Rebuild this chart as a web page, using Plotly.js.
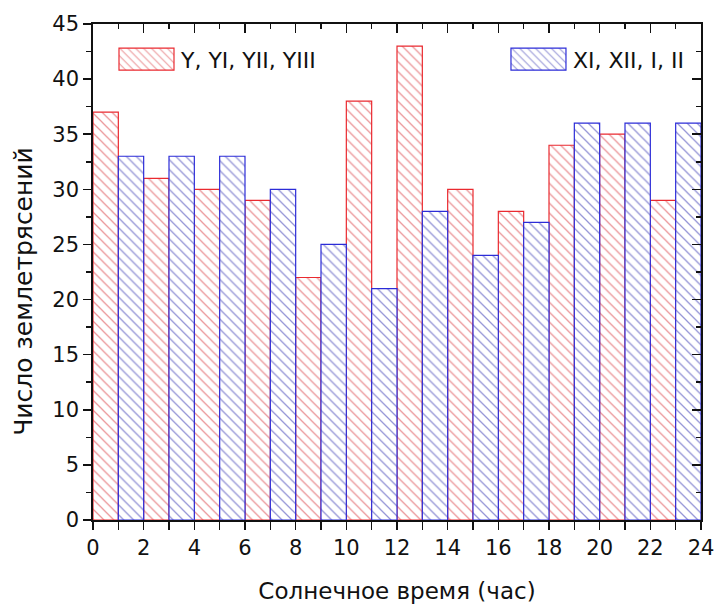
<!DOCTYPE html>
<html>
<head>
<meta charset="utf-8">
<script src="https://cdn.plot.ly/plotly-3.0.1.min.js"></script>
<style>html,body{margin:0;padding:0;background:#fff;}#chart{width:715px;height:604px;}</style>
</head>
<body>
<div id="chart"></div>
<script>
// Data
const summerStarts = [0, 2, 4, 6, 8, 10, 12, 14, 16, 18, 20, 22];
const summerCounts = [37, 31, 30, 29, 22, 38, 43, 30, 28, 34, 35, 29];
const winterStarts = [1, 3, 5, 7, 9, 11, 13, 15, 17, 19, 21, 23];
const winterCounts = [33, 33, 33, 30, 25, 21, 28, 24, 27, 36, 36, 36];
const summerName = "Y, YI, YII, YIII";
const winterName = "XI, XII, I, II";
const xTitle = "Солнечное время (час)";
const yTitle = "Число землетрясений";

const FONT = "DejaVu Sans, Arial, sans-serif";

const traces = [
  {
    type: "bar", name: summerName, x: summerStarts, y: summerCounts,
    width: 1, offset: 0, legend: "legend",
    marker: {
      color: "#ffffff",
      line: {color: "#ea2a30", width: 1.2},
      pattern: {shape: "\\", fgcolor: "#eb9598", bgcolor: "#ffffff", size: 7, solidity: 0.18}
    },
    hoverinfo: "skip"
  },
  {
    type: "bar", name: winterName, x: winterStarts, y: winterCounts,
    width: 1, offset: 0, legend: "legend2",
    marker: {
      color: "#ffffff",
      line: {color: "#2c2cd8", width: 1.2},
      pattern: {shape: "\\", fgcolor: "#9494d6", bgcolor: "#ffffff", size: 7, solidity: 0.18}
    },
    hoverinfo: "skip"
  }
];

const layout = {
  width: 715, height: 604,
  margin: {l: 93, r: 14, t: 24, b: 84},
  paper_bgcolor: "#ffffff", plot_bgcolor: "#ffffff",
  font: {family: FONT, color: "#111111", size: 21},
  barmode: "overlay",
  bargap: 0,
  showlegend: true,
  legend: {
    x: 0.0296, y: 0.971, xanchor: "left", yanchor: "top",
    bgcolor: "rgba(0,0,0,0)", font: {family: FONT, size: 22, color: "#111"},
    itemwidth: 60, tracegroupgap: 0
  },
  legend2: {
    x: 0.6743, y: 0.971, xanchor: "left", yanchor: "top",
    bgcolor: "rgba(0,0,0,0)", font: {family: FONT, size: 22, color: "#111"},
    itemwidth: 60, tracegroupgap: 0
  },
  xaxis: {
    range: [0, 24], dtick: 2, tick0: 0,
    ticks: "outside", ticklen: 8, tickwidth: 1.5, tickcolor: "#111",
    minor: {dtick: 1, ticks: "outside", ticklen: 8, tickwidth: 1.5, tickcolor: "#111"},
    showline: true, linecolor: "#111", linewidth: 1.8,
    showgrid: false, zeroline: false,
    tickfont: {family: FONT, size: 21, color: "#111"},
    title: {text: xTitle, font: {family: FONT, size: 23, color: "#111"}, standoff: 28}
  },
  yaxis: {
    range: [0, 45], dtick: 5, tick0: 0,
    ticks: "outside", ticklen: 8, tickwidth: 1.5, tickcolor: "#111",
    minor: {dtick: 2.5, ticks: "outside", ticklen: 5, tickwidth: 1.5, tickcolor: "#111"},
    showline: true, linecolor: "#111", linewidth: 1.8,
    showgrid: false, zeroline: false,
    tickfont: {family: FONT, size: 21, color: "#111"}
  },
  xaxis2: {
    overlaying: "x", side: "top", matches: "x", range: [0, 24], dtick: 2, tick0: 0,
    ticks: "inside", ticklen: 9, tickwidth: 1.5, tickcolor: "#111",
    minor: {dtick: 1, ticks: "inside", ticklen: 5, tickwidth: 1.5, tickcolor: "#111"},
    showticklabels: false, showline: true, linecolor: "#111", linewidth: 1.8,
    showgrid: false, zeroline: false
  },
  yaxis2: {
    overlaying: "y", side: "right", range: [0, 45], dtick: 5, tick0: 0,
    ticks: "inside", ticklen: 9, tickwidth: 1.5, tickcolor: "#111",
    minor: {dtick: 2.5, ticks: "inside", ticklen: 5, tickwidth: 1.5, tickcolor: "#111"},
    showticklabels: false, showline: true, linecolor: "#111", linewidth: 1.8,
    showgrid: false, zeroline: false
  },
  annotations: [{
    text: yTitle, textangle: -90, showarrow: false,
    xref: "paper", yref: "paper", x: 0, y: 0.46, xanchor: "center", yanchor: "middle",
    xshift: -69, font: {family: FONT, size: 25, color: "#111"}
  }]
};

// invisible trace to activate the mirrored top/right axes
traces.push({type: "scatter", x: [], y: [], xaxis: "x2", yaxis: "y2", showlegend: false, hoverinfo: "skip"});

Plotly.newPlot("chart", traces, layout, {staticPlot: true, displayModeBar: false}).then(function () {
  document.querySelectorAll(".legendpoints path").forEach(function (p) {
    p.setAttribute("d", "M27.5,11H-27.5V-11H27.5Z");
  });
  document.querySelectorAll(".legendpoints").forEach(function (g) {
    g.setAttribute("transform", "translate(0.5,0)");
  });
});
</script>
</body>
</html>
